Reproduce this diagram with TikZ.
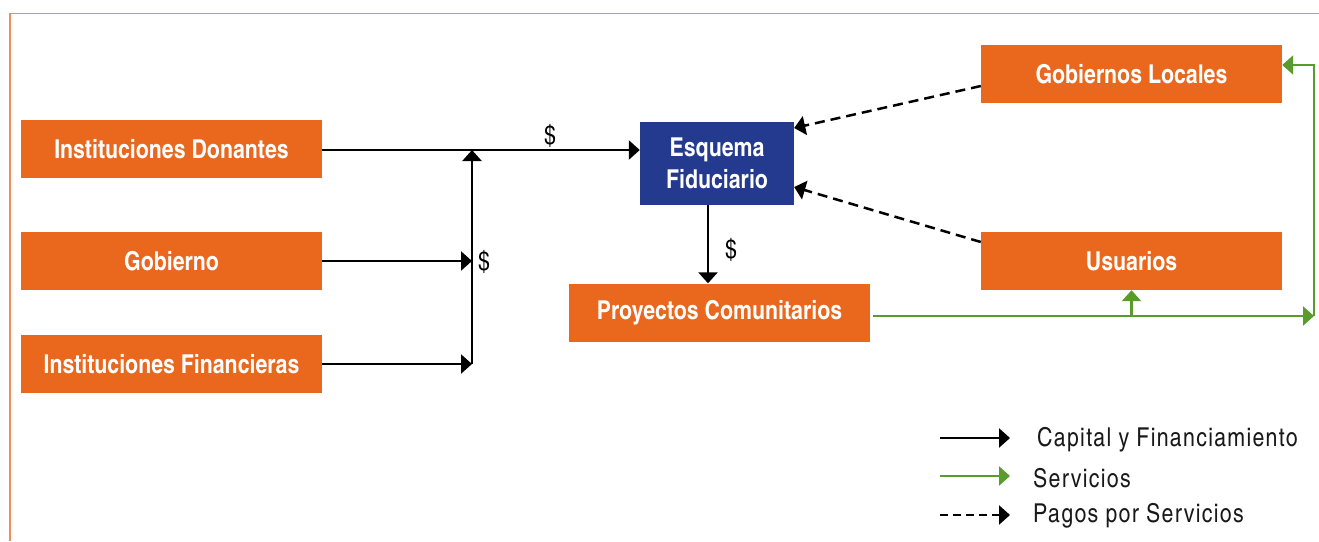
\documentclass[tikz,border=0pt]{standalone}
\usepackage{fontspec}
\setmainfont{TeX Gyre Heros Cn}
\usetikzlibrary{arrows.meta}

\definecolor{naranja}{RGB}{234,104,30}
\definecolor{azul}{RGB}{35,58,143}
\definecolor{verde}{RGB}{90,155,45}
\definecolor{borde}{RGB}{240,140,90}

\tikzset{
	caja/.style={fill=naranja, text=white, inner sep=0pt, minimum width=301pt, minimum height=58pt, font=\bfseries\fontsize{26}{32}\selectfont},
	flujo/.style={black, line width=2.5pt, -{Triangle[length=11pt, width=19pt]}},
	servicio/.style={verde, line width=2.5pt, -{Triangle[length=11pt, width=19pt]}},
	pago/.style={black, line width=2.5pt, dash pattern=on 10pt off 6pt, -{Triangle[length=11pt, width=19pt]}},
	dinero/.style={inner sep=0pt, font=\fontsize{26}{28}\selectfont},
	leyenda/.style={anchor=west, inner sep=0pt, text=black!90, font=\fontsize{26}{28}\selectfont\addfontfeature{LetterSpace=5}}
}

\begin{document}
\begin{tikzpicture}[x=1pt, y=-1pt]

	\useasboundingbox (0, 0) rectangle (1319, 541);
	\draw[borde, line width=1.5pt] (10, 541) -- (10, 13.5) -- (1319, 13.5);

	% cajas
	\node[caja] (donantes) at (171.5, 149) {Instituciones Donantes};
	\node[caja] (gobierno) at (171.5, 261) {Gobierno};
	\node[caja] (financieras) at (171.5, 364) {Instituciones Financieras};
	\node[caja, fill=azul, minimum width=154pt, minimum height=83pt, align=center] (fiduciario) at (717, 163.5) {Esquema\\Fiduciario};
	\node[caja] (proyectos) at (719.5, 312.5) {Proyectos Comunitarios};
	\node[caja] (locales) at (1131.5, 74) {Gobiernos Locales};
	\node[caja] (usuarios) at (1131.5, 261) {Usuarios};

	\coordinate (nudo) at (472, 150);
	\coordinate (base) at (472, 364);
	\coordinate (giro) at (1314, 316);
	\coordinate (esquina) at (1314, 65);

	% capital
	\draw[flujo] (donantes.east |- nudo) -- (fiduciario.west |- nudo);
	\draw[flujo] (gobierno.east) -- (gobierno.east -| nudo);
	\draw[flujo] (financieras.east) -- (base);
	\draw[flujo] (base) -- (nudo);
	\draw[flujo] ([xshift=-9pt]fiduciario.south) -- ([xshift=-9pt]fiduciario.south |- proyectos.north);

	\node[dinero] (d1) at (550, 136) {\$};
	\node[dinero] (d2) at (484, 262) {\$};
	\node[dinero] (d3) at (731, 250) {\$};

	% servicios
	\draw[servicio] ([xshift=3pt, yshift=-3.5pt]proyectos.east) -- (giro);
	\draw[servicio] (giro) -- (esquina) -- (locales.east |- esquina);
	\draw[servicio] (usuarios.south |- giro) -- (usuarios.south);

	% pagos
	\draw[pago] ([yshift=-12pt]locales.west) -- ([yshift=35.5pt]fiduciario.east);
	\draw[pago] ([yshift=19pt]usuarios.west) -- ([yshift=-23.5pt]fiduciario.east);

	% leyenda
	\coordinate (l1) at (940, 438);
	\coordinate (l2) at (940, 476);
	\coordinate (l3) at (940, 515);
	\draw[flujo] (l1) -- ++(70, 0);
	\draw[servicio] (l2) -- ++(70, 0);
	\draw[pago, dash pattern=on 8pt off 5pt] (l3) -- ++(70, 0);
	\node[leyenda] (t1) at (1037, 440) {Capital y Financiamiento};
	\node[leyenda] (t2) at (1033, 478) {Servicios};
	\node[leyenda] (t3) at (1033, 516) {Pagos por Servicios};

\end{tikzpicture}
\end{document}
